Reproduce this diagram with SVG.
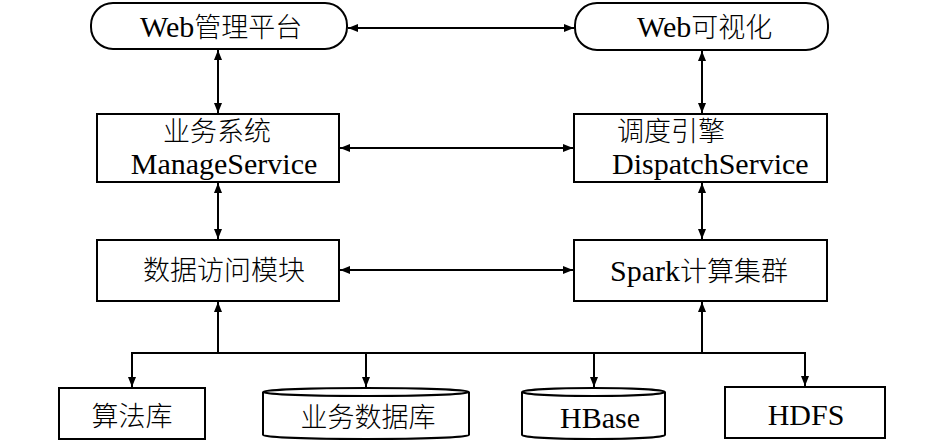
<svg xmlns="http://www.w3.org/2000/svg" width="945" height="442" viewBox="0 0 945 442">
<style>
.box{fill:#fff;stroke:#000;stroke-width:2}
.ln{fill:none;stroke:#000;stroke-width:2}
.t{font-family:"Liberation Serif","Times New Roman","DejaVu Serif",serif;font-size:30px;font-weight:normal;fill:#000}
.c{font-family:"Noto Sans CJK SC","Noto Sans CJK JP",sans-serif;font-size:27px;fill:#000;font-weight:300}
</style>
<defs>
<marker id="ah" viewBox="0 0 10 8" refX="10" refY="4" markerWidth="10" markerHeight="8" markerUnits="userSpaceOnUse" orient="auto-start-reverse">
<path d="M0,0 L10,4 L0,8 Z" fill="#000"/>
</marker>
</defs>
<rect width="945" height="442" fill="#fff"/>
<g id="connectors">
<line class="ln" x1="348" y1="28" x2="574" y2="28" marker-start="url(#ah)" marker-end="url(#ah)"/>
<line class="ln" x1="218" y1="50" x2="218" y2="113" marker-start="url(#ah)" marker-end="url(#ah)"/>
<line class="ln" x1="702" y1="51" x2="702" y2="113" marker-start="url(#ah)" marker-end="url(#ah)"/>
<line class="ln" x1="340" y1="148" x2="573" y2="148" marker-start="url(#ah)" marker-end="url(#ah)"/>
<line class="ln" x1="218" y1="183" x2="218" y2="239" marker-start="url(#ah)" marker-end="url(#ah)"/>
<line class="ln" x1="702" y1="183" x2="702" y2="239" marker-start="url(#ah)" marker-end="url(#ah)"/>
<line class="ln" x1="340" y1="270" x2="573" y2="270" marker-start="url(#ah)" marker-end="url(#ah)"/>
<line class="ln" x1="218" y1="353" x2="218" y2="302" marker-end="url(#ah)"/>
<line class="ln" x1="702" y1="353" x2="702" y2="302" marker-end="url(#ah)"/>
<line class="ln" x1="131" y1="353" x2="806" y2="353"/>
<line class="ln" x1="132" y1="353" x2="132" y2="387" marker-end="url(#ah)"/>
<line class="ln" x1="366" y1="353" x2="366" y2="387" marker-end="url(#ah)"/>
<line class="ln" x1="594" y1="353" x2="594" y2="387" marker-end="url(#ah)"/>
<line class="ln" x1="805" y1="353" x2="805" y2="386" marker-end="url(#ah)"/>
</g>
<g id="web-admin">
<rect class="box" x="91" y="3" width="256" height="46" rx="22" ry="22"/>
<text class="t" x="140" y="37">Web<tspan class="c">管理平台</tspan></text>
</g>
<g id="web-vis">
<rect class="box" x="575" y="3" width="253" height="47" rx="22" ry="22"/>
<text class="t" x="637" y="37">Web<tspan class="c">可视化</tspan></text>
</g>
<g id="manage-service">
<rect class="box" x="97" y="114" width="242" height="68"/>
<text class="c" x="217" y="141" text-anchor="middle">业务系统</text>
<text class="t" x="224" y="174" text-anchor="middle">ManageService</text>
</g>
<g id="dispatch-service">
<rect class="box" x="574" y="114" width="253" height="68"/>
<text class="c" x="617" y="141">调度引擎</text>
<text class="t" x="612" y="174">DispatchService</text>
</g>
<g id="data-access">
<rect class="box" x="97" y="240" width="242" height="61"/>
<text class="c" x="224" y="280" text-anchor="middle">数据访问模块</text>
</g>
<g id="spark">
<rect class="box" x="574" y="240" width="253" height="61"/>
<text class="t" x="610" y="281">Spark<tspan class="c">计算集群</tspan></text>
</g>
<g id="algo-lib">
<rect class="box" x="59" y="388" width="146" height="51"/>
<text class="c" x="132" y="426" text-anchor="middle">算法库</text>
</g>
<g id="biz-db">
<path class="box" d="M263,392 L263,435 A103,4 0 0 0 469,435 L469,392"/>
<ellipse class="box" cx="366" cy="392" rx="103" ry="4"/>
<text class="c" x="368" y="427" text-anchor="middle">业务数据库</text>
</g>
<g id="hbase">
<path class="box" d="M522,392 L522,435 A71.5,4 0 0 0 665,435 L665,392"/>
<ellipse class="box" cx="593.5" cy="392" rx="71.5" ry="4"/>
<text class="t" x="600" y="428" text-anchor="middle">HBase</text>
</g>
<g id="hdfs">
<rect class="box" x="725" y="387" width="160" height="51"/>
<text class="t" x="806" y="425" text-anchor="middle">HDFS</text>
</g>
</svg>
